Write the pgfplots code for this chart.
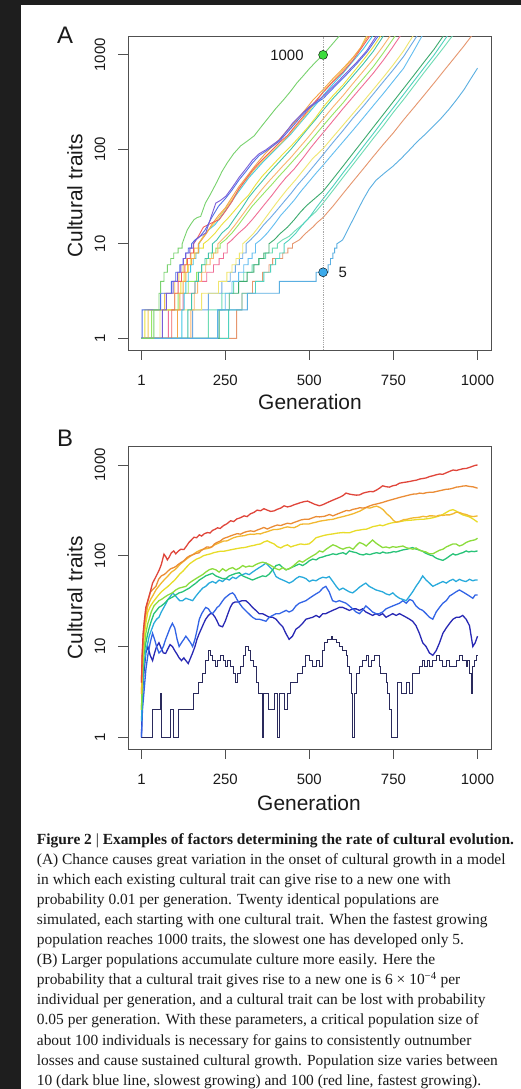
\documentclass[border=0pt]{standalone}
\usepackage{fontspec}
\setmainfont{Liberation Serif}
\setsansfont{Liberation Sans}
\usepackage{pgfplots}
\pgfplotsset{compat=1.18}
\definecolor{bgdark}{HTML}{1E1E1E}
\definecolor{axgray}{HTML}{505050}
\definecolor{txt}{HTML}{1A1A1A}
\definecolor{cA1}{HTML}{78D26E}\definecolor{cA2}{HTML}{7A5CD8}\definecolor{cA3}{HTML}{5070E6}
\definecolor{cA4}{HTML}{F06060}\definecolor{cA5}{HTML}{F5A548}\definecolor{cA6}{HTML}{F0C850}
\definecolor{cA7}{HTML}{40C8E6}\definecolor{cA8}{HTML}{EBE13C}\definecolor{cA9}{HTML}{40C3AA}
\definecolor{cA10}{HTML}{FAB46E}\definecolor{cA11}{HTML}{96E664}\definecolor{cA12}{HTML}{F06E96}
\definecolor{cA13}{HTML}{F0E66E}\definecolor{cA14}{HTML}{6EAAE6}\definecolor{cA15}{HTML}{64BEF0}
\definecolor{cA16}{HTML}{3CAA6E}\definecolor{cA17}{HTML}{50D2BE}\definecolor{cA18}{HTML}{6EDCB4}
\definecolor{cA19}{HTML}{E6966E}\definecolor{cA20}{HTML}{5AAFE1}
\definecolor{cB1}{HTML}{E0453A}\definecolor{cB2}{HTML}{EB8C35}\definecolor{cB3}{HTML}{F2B830}
\definecolor{cB4}{HTML}{E8DC28}\definecolor{cB5}{HTML}{8CDC3C}\definecolor{cB6}{HTML}{28C378}
\definecolor{cB7}{HTML}{28AADC}\definecolor{cB8}{HTML}{3264E6}\definecolor{cB9}{HTML}{2828B4}
\definecolor{cB10}{HTML}{2A2A5C}
\newcommand{\tlfont}{\fontsize{15}{18}\selectfont\sffamily}
\begin{document}
\begin{tikzpicture}
\useasboundingbox (0,0) rectangle (521bp,-1089bp);
\fill[bgdark] (0,0) rectangle (521bp,-1089bp);
\fill[white] (21bp,-5bp) rectangle (521bp,-1089bp);
% ---------------- Panel A
\begin{axis}[at={(128bp,-36bp)}, anchor=north west,
    scale only axis, width=363bp, height=314bp,
    xmin=-39, xmax=1040, ymode=log, ymin=0.752, ymax=1585,
    xtick={1,250,500,750,1000}, xticklabels={1,250,500,750,1000},
    ytick={1,10,100,1000}, yticklabels={1,10,100,1000},
    yminorticks=false, xminorticks=false,
    tick align=outside, major tick length=10bp,
    xtick pos=left, ytick pos=left,
    axis line style={draw=axgray, line width=0.8bp},
    tick style={draw=axgray, line width=0.8bp},
    /pgf/number format/assume math mode=true,
    tick label style={font=\tlfont, text=txt, inner sep=0pt},
    xticklabel style={anchor=center, yshift=-20bp},
    yticklabel style={xshift=-18bp, rotate=90, anchor=center}]
\addplot[line width=0.9bp, no marks, cA19] coordinates {(1,1)(284,1)(284,2)(300,2)(300,3)(331,3)(331,4)(361,4)(361,5)(380,5)(380,6)(391,6)(391,7)(421,7)(421,8)(436,8)(436,9)(450,9)(450,10)(470,11)(490,13)(510,15)(525,17)(541,19)(570,25)(600,34)(630,46)(660,62)(690,84)(720,113)(750,150)(780,205)(810,275)(840,370)(870,500)(900,680)(930,920)(960,1250)(982,1585)(990,1700)};
\addplot[line width=0.9bp, no marks, cA18] coordinates {(1,1)(200,1)(200,2)(240,2)(240,3)(275,3)(275,4)(305,4)(305,5)(330,5)(330,6)(350,6)(350,7)(370,7)(370,8)(390,8)(390,9)(405,9)(405,10)(420,11)(440,12)(460,14)(480,16)(500,19)(520,22)(541,27)(571,37)(601,51)(631,70)(661,96)(691,132)(721,180)(751,250)(781,340)(811,470)(841,650)(871,890)(901,1220)(925,1585)(935,1800)};
\addplot[line width=0.9bp, no marks, cA17] coordinates {(1,1)(260,1)(260,2)(300,2)(300,3)(340,3)(340,4)(365,4)(365,5)(385,5)(385,6)(400,6)(400,7)(412,7)(412,8)(425,8)(425,10)(440,11)(460,13)(480,16)(500,19)(520,24)(541,30)(571,41)(601,57)(631,78)(661,108)(691,148)(721,205)(751,280)(781,385)(811,530)(841,730)(871,1000)(910,1585)(920,1800)};
\addplot[line width=0.9bp, no marks, cA16] coordinates {(1,1)(232,1)(232,2)(262,2)(262,3)(290,3)(290,4)(315,4)(315,5)(335,5)(335,6)(350,6)(350,7)(365,7)(365,8)(380,8)(380,10)(395,11)(415,13)(435,15)(455,18)(475,22)(495,26)(520,31)(541,36)(571,49)(601,67)(631,92)(661,126)(691,173)(721,237)(751,325)(781,445)(811,610)(841,840)(871,1150)(898,1585)(908,1800)};
\addplot[line width=0.9bp, no marks, cA15] coordinates {(1,1)(227,1)(227,2)(250,2)(250,3)(270,3)(270,4)(290,4)(290,5)(305,5)(305,6)(318,6)(318,7)(330,7)(330,8)(340,8)(340,10)(355,11)(375,13)(395,16)(415,20)(435,24)(455,29)(475,36)(500,46)(520,56)(541,68)(570,90)(600,120)(630,160)(660,215)(690,290)(720,390)(750,530)(780,720)(810,1100)(835,1585)(845,1750)};
\addplot[line width=0.9bp, no marks, cA14] coordinates {(1,1)(153,1)(153,2)(200,2)(200,3)(240,3)(240,4)(265,4)(265,5)(280,5)(280,6)(292,6)(292,7)(302,7)(302,8)(312,8)(312,10)(325,11)(345,13)(365,16)(385,19)(405,23)(425,28)(445,34)(465,42)(490,53)(515,68)(541,88)(570,118)(600,158)(630,215)(660,285)(690,385)(720,520)(750,700)(780,960)(820,1585)(830,1750)};
\addplot[line width=0.9bp, no marks, cA13] coordinates {(1,1)(56,1)(56,2)(180,2)(180,3)(230,3)(230,4)(255,4)(255,5)(270,5)(270,6)(282,6)(282,7)(292,7)(292,8)(302,8)(302,10)(315,11)(335,13)(355,16)(375,20)(395,25)(415,31)(435,38)(460,48)(485,62)(510,80)(541,102)(570,135)(600,180)(630,240)(660,320)(690,430)(720,580)(750,790)(780,1100)(808,1585)(818,1750)};
\addplot[line width=0.9bp, no marks, cA12] coordinates {(1,1)(81,1)(81,2)(125,2)(125,3)(160,3)(160,4)(195,4)(195,5)(215,5)(215,6)(232,6)(232,7)(245,7)(245,8)(256,8)(256,10)(270,11)(290,13)(310,15)(330,18)(350,22)(370,27)(390,33)(410,41)(430,50)(455,62)(480,80)(505,105)(530,135)(541,150)(570,200)(600,270)(630,360)(660,480)(690,640)(720,880)(745,1170)(770,1585)(780,1750)};
\addplot[line width=0.9bp, no marks, cA11] coordinates {(1,1)(31,1)(31,2)(110,2)(110,3)(140,3)(140,4)(165,4)(165,5)(180,5)(180,6)(195,6)(195,7)(210,7)(210,8)(222,8)(222,9)(235,9)(235,10)(250,11)(270,13)(290,16)(310,20)(330,25)(350,30)(370,36)(390,43)(410,52)(430,62)(455,78)(480,98)(505,125)(530,160)(541,178)(570,235)(600,310)(630,420)(660,560)(690,750)(720,1050)(755,1585)(765,1750)};
\addplot[line width=0.9bp, no marks, cA10] coordinates {(1,1)(148,1)(148,2)(158,2)(158,3)(168,3)(168,4)(180,4)(180,5)(192,5)(192,6)(205,6)(205,7)(215,7)(215,8)(228,8)(228,10)(240,11)(260,13)(280,16)(300,20)(320,25)(340,31)(360,38)(380,46)(400,55)(420,66)(445,82)(470,104)(495,132)(520,170)(541,210)(570,280)(600,370)(630,500)(660,670)(690,900)(715,1180)(740,1585)(750,1750)};
\addplot[line width=0.9bp, no marks, cA9] coordinates {(1,1)(139,1)(139,2)(150,2)(150,3)(160,3)(160,4)(170,4)(170,5)(180,5)(180,6)(190,6)(190,7)(200,7)(200,8)(212,8)(212,10)(225,11)(240,13)(260,15)(280,19)(300,24)(320,31)(340,38)(360,46)(380,56)(400,67)(420,80)(445,100)(470,128)(495,165)(520,210)(541,260)(570,345)(600,450)(630,600)(660,800)(690,1090)(720,1585)(730,1750)};
\addplot[line width=0.9bp, no marks, cA8] coordinates {(1,1)(11,1)(11,2)(100,2)(100,3)(118,3)(118,4)(128,4)(128,5)(138,5)(138,6)(148,6)(148,7)(158,7)(158,8)(170,8)(170,9)(185,9)(185,10)(200,11)(220,13)(240,16)(260,19)(280,23)(300,28)(320,33)(340,42)(360,52)(380,62)(400,74)(420,88)(445,108)(470,135)(495,170)(520,220)(541,280)(570,370)(600,480)(630,650)(660,880)(690,1210)(712,1585)(722,1750)};
\addplot[line width=0.9bp, no marks, cA7] coordinates {(1,1)(121,1)(121,2)(128,2)(128,3)(133,3)(133,4)(140,4)(140,5)(147,5)(147,6)(155,6)(155,7)(163,7)(163,8)(172,8)(172,10)(185,12)(200,14)(220,16)(240,20)(260,25)(280,32)(300,40)(320,50)(340,60)(360,72)(380,85)(400,100)(420,118)(445,145)(470,185)(495,235)(520,300)(541,370)(570,490)(600,640)(630,860)(660,1150)(688,1585)(698,1750)};
\addplot[line width=0.9bp, no marks, cA6] coordinates {(1,1)(21,1)(21,2)(70,2)(70,3)(100,3)(100,4)(112,4)(112,5)(125,5)(125,6)(135,6)(135,7)(148,7)(148,8)(158,8)(158,9)(170,9)(170,10)(185,12)(200,14)(220,17)(240,21)(260,26)(280,33)(300,42)(320,52)(340,63)(360,75)(380,88)(400,103)(420,120)(445,150)(470,190)(495,245)(520,320)(541,410)(570,530)(600,690)(630,930)(650,1150)(670,1585)(680,1750)};
\addplot[line width=0.9bp, no marks, cA5] coordinates {(1,1)(108,1)(108,2)(115,2)(115,3)(125,3)(125,4)(133,4)(133,5)(140,5)(140,6)(150,6)(150,7)(160,7)(160,8)(170,8)(170,10)(180,11)(195,13)(210,16)(230,20)(250,24)(270,31)(290,40)(311,50)(331,62)(351,76)(371,92)(391,108)(411,128)(435,160)(460,200)(485,255)(510,330)(541,430)(570,560)(600,720)(630,940)(653,1200)(675,1585)(685,1750)};
\addplot[line width=0.9bp, no marks, cA4] coordinates {(1,1)(91,1)(91,2)(100,2)(100,3)(110,3)(110,4)(120,4)(120,5)(130,5)(130,6)(138,6)(138,7)(146,7)(146,8)(156,8)(156,10)(170,12)(185,15)(200,16)(215,17)(232,18)(250,22)(270,28)(290,38)(311,48)(331,60)(351,72)(371,85)(391,100)(411,118)(435,140)(460,180)(485,230)(510,300)(541,400)(570,520)(600,660)(630,880)(655,1180)(680,1585)(690,1750)};
\addplot[line width=0.9bp, no marks, cA3] coordinates {(1,1)(3,1)(3,2)(58,2)(58,3)(90,3)(90,4)(103,4)(103,5)(115,5)(115,6)(125,6)(125,7)(132,7)(132,8)(140,8)(140,9)(150,9)(150,10)(160,11)(175,12)(190,14)(210,19)(230,25)(250,30)(270,37)(292,48)(311,58)(331,72)(351,86)(371,96)(391,108)(411,122)(430,145)(450,175)(475,222)(500,275)(520,310)(541,345)(575,460)(609,610)(640,800)(672,1080)(705,1585)(715,1800)};
\addplot[line width=0.9bp, no marks, cA2] coordinates {(1,1)(63,1)(63,2)(75,2)(75,3)(95,3)(95,4)(108,4)(108,5)(118,5)(118,6)(126,6)(126,7)(133,7)(133,8)(145,8)(145,9)(155,9)(155,10)(163,11)(175,12)(192,13)(205,18)(222,27)(237,29)(252,32)(272,40)(292,51)(311,62)(331,77)(351,90)(371,99)(391,112)(411,126)(430,152)(450,189)(475,232)(500,283)(520,320)(541,363)(575,480)(609,640)(640,830)(670,1100)(699,1585)(710,1800)};
\addplot[line width=0.9bp, no marks, cA20] coordinates {(1,1)(228,1)(228,2)(316,2)(316,3)(411,3)(411,4)(520,4)(520,5)(556,5)(556,6)(563,6)(563,7)(570,7)(570,8)(575,8)(575,9)(582,9)(582,10)(599,11)(614,14)(639,21)(659,29)(678,38)(698,47)(723,56)(748,66)(773,80)(798,99)(820,120)(845,145)(867,174)(890,210)(915,265)(937,333)(960,430)(980,560)(1000,724)};
\addplot[line width=0.9bp, no marks, cA1] coordinates {(1,1)(38,1)(38,2)(53,2)(53,3)(58,3)(58,4)(68,4)(68,5)(78,5)(78,6)(88,6)(88,7)(97,7)(97,8)(110,8)(110,9)(122,9)(122,10)(130,12)(137,14)(147,16)(157,18)(167,19)(177,19.5)(191,27)(205,33)(225,45)(240,58)(256,72)(275,90)(296,109)(315,122)(336,139)(355,170)(375,209)(400,270)(425,340)(445,415)(464,510)(480,590)(499,707)(520,850)(541,1000)(565,1260)(589,1585)(600,1780)};
\addplot[densely dotted, line width=0.8bp, gray!70, no marks] coordinates {(541,0.752)(541,1585)};
\addplot[only marks, mark=*, mark size=4.5bp, draw=none, fill={rgb,255:red,60;green,220;blue,60}] coordinates {(541,1000)};
\addplot[only marks, mark=*, mark size=4.5bp, draw=none, fill={rgb,255:red,60;green,170;blue,235}] coordinates {(541,5)};
\node[anchor=east, xshift=-16bp, font=\tlfont, text=txt] at (axis cs:541,1000) {1000};
\node[anchor=west, xshift=12bp, font=\tlfont, text=txt] at (axis cs:541,5) {5};
\end{axis}
% ---------------- Panel B
\begin{axis}[at={(128bp,-446bp)}, anchor=north west,
    scale only axis, width=363bp, height=303bp,
    xmin=-39, xmax=1040, ymode=log, ymin=0.743, ymax=1618,
    xtick={1,250,500,750,1000}, xticklabels={1,250,500,750,1000},
    ytick={1,10,100,1000}, yticklabels={1,10,100,1000},
    yminorticks=false, xminorticks=false,
    tick align=outside, major tick length=10bp,
    xtick pos=left, ytick pos=left,
    axis line style={draw=axgray, line width=0.8bp},
    tick style={draw=axgray, line width=0.8bp},
    /pgf/number format/assume math mode=true,
    tick label style={font=\tlfont, text=txt, inner sep=0pt},
    xticklabel style={anchor=center, yshift=-20bp},
    yticklabel style={xshift=-18bp, rotate=90, anchor=center}]
\addplot[line width=1.0bp, no marks, cB10, const plot] coordinates {(1,1)(33,2)(58,3)(60,2)(62,1)(87,2)(97,1)(112,2)(157,3)(172,4)(182,5)(191,7)(201,9)(206,8)(213,7)(221,6)(228,7)(236,8)(244,7)(251,6)(256,7)(266,6)(276,5)(281,4)(286,5)(296,6)(305,8)(311,10)(318,9)(326,7)(335,6)(343,4)(350,3)(360,1)(365,3)(380,2)(395,3)(405,1)(410,3)(425,2)(434,3)(444,4)(454,4)(464,5)(474,5)(480,6)(490,8)(500,7)(510,6)(520,7)(530,6)(538,9)(545,11)(555,12)(565,13)(570,12)(580,11)(589,10)(599,9)(609,8)(614,6)(619,5)(624,3)(629,1)(634,3)(639,5)(649,6)(659,7)(669,8)(677,6)(684,7)(693,8)(703,8)(708,6)(713,5)(720,5)(728,4)(733,3)(738,2)(743,1)(763,4)(773,3)(788,4)(798,3)(808,5)(818,5)(827,6)(835,7)(842,6)(850,7)(857,6)(867,7)(877,8)(887,7)(897,6)(907,7)(917,6)(927,6)(937,7)(946,8)(956,7)(966,6)(971,7)(976,5)(981,3)(986,6)(991,7)(996,8)(1000,8)};
\addplot[line width=1.3bp, no marks, cB9] coordinates {(1,1)(4,3)(8,5)(14,8.5)(20,10)(27,8)(34,7)(40,8.5)(46,10)(53,11)(60,9.5)(66,8.5)(73,8.4)(80,9.5)(86,10.5)(93,10)(100,9)(107,8.2)(113,7.5)(120,7)(127,7.5)(133,7)(140,6.5)(147,7.5)(153,8.5)(160,10)(166,12)(173,14)(180,16)(186,18)(192,20)(200,22)(206,23)(212,23)(220,21)(226,19)(232,17)(242,16.5)(250,19)(258,23)(265,27)(272,30)(280,31)(290,31)(300,32)(311,32)(320,30)(331,27)(341,25)(351,23)(361,23)(371,22)(381,21)(391,21)(401,20)(411,18)(421,16.5)(430,14)(440,12)(450,13)(460,15.5)(470,16.5)(480,18)(490,20)(500,20.5)(510,21)(520,22)(530,21)(540,23)(549,23)(559,24)(569,25)(580,26)(589,27)(599,27)(609,26)(619,25)(629,26)(639,26)(649,25)(658,26)(668,24)(678,23)(688,22)(698,23)(708,22)(718,23)(728,21)(738,22)(748,23)(758,22)(768,23)(778,22)(788,21)(798,20)(807,19)(817,17)(827,14)(837,11)(847,10)(857,8.5)(867,8)(877,9)(887,11)(897,14)(907,16)(917,18)(927,20)(937,21)(946,21)(956,22)(966,20)(976,17)(986,10)(993,11)(1000,13)};
\addplot[line width=1.3bp, no marks, cB8] coordinates {(1,1)(4,2)(8,3)(14,5.5)(20,8)(27,11)(34,14)(40,12)(46,10)(53,8.5)(60,9)(66,10)(73,12)(80,14)(86,16)(93,18)(100,16)(107,12)(113,10)(120,11)(127,12)(133,13)(140,12)(147,11)(153,10)(160,12)(166,15)(173,20)(180,23)(186,25)(192,27)(200,26)(206,24)(212,23)(220,25)(226,27)(232,28)(240,31)(248,34)(256,36)(264,38)(272,39)(278,37)(285,33)(292,30)(301,27)(310,25)(320,23)(331,21)(341,20)(351,20)(361,19.5)(371,19)(381,21)(391,22)(401,23)(411,23)(421,24)(431,25)(440,24)(450,25)(460,28)(470,30)(480,31)(490,32)(500,34)(510,36)(520,38)(530,40)(540,44)(549,46)(559,40)(569,32)(579,31)(589,32)(599,31)(609,30)(619,28)(629,26)(639,24)(649,23)(658,25)(668,28)(678,26)(688,24)(698,23)(708,23)(718,24)(728,26)(738,27)(748,28)(758,29)(768,30)(778,32)(788,30)(798,33)(807,32)(817,28)(827,26)(837,25)(847,23)(857,21)(867,20)(877,24)(887,27)(897,30)(907,32)(917,36)(927,38)(936,40)(946,42)(956,40)(966,38)(976,36)(986,34)(993,37)(1000,37)};
\addplot[line width=1.3bp, no marks, cB7] coordinates {(1,1.5)(4,3)(8,6)(14,9)(20,11)(24,13)(30,15)(38,18)(46,20)(53,21)(60,24)(70,28)(80,33)(88,36)(93,39)(100,37)(108,34)(115,32)(123,32)(133,34)(143,33)(153,32)(163,36)(173,40)(183,44)(192,46)(202,50)(212,52)(222,50)(232,54)(242,52)(252,56)(262,54)(272,58)(282,56)(292,60)(302,62)(311,64)(321,62)(331,66)(341,70)(351,74)(361,78)(371,83)(381,76)(391,70)(401,59)(411,56)(421,54)(431,52)(440,50)(450,52)(460,56)(470,59)(480,58)(490,56)(500,52)(510,54)(520,53)(530,56)(540,58)(550,57)(559,59)(570,52)(580,46)(589,42)(600,44)(609,42)(619,40)(629,39)(640,42)(649,45)(660,48)(668,50)(678,46)(688,44)(698,42)(708,41)(718,40)(728,38)(738,37)(748,39)(758,36)(768,34)(778,33)(788,32)(798,36)(807,40)(817,46)(827,52)(837,60)(847,54)(857,50)(867,46)(877,48)(887,50)(897,52)(907,50)(917,53)(927,55)(936,52)(946,55)(956,53)(966,52)(976,55)(986,53)(993,54)(1000,54)};
\addplot[line width=1.3bp, no marks, cB6] coordinates {(1,2)(4,4)(8,8)(14,11)(20,14)(24,16)(30,19)(38,23)(46,25)(53,27)(60,28)(70,30)(80,33)(93,35)(103,37)(113,39)(123,40)(133,42)(143,44)(153,47)(163,50)(173,54)(183,57)(192,60)(202,62)(212,64)(222,60)(232,58)(242,56)(252,56)(262,60)(272,62)(282,64)(292,65)(302,60)(311,58)(321,56)(331,54)(341,56)(351,58)(361,60)(371,59)(381,63)(391,70)(401,78)(411,80)(421,74)(431,70)(440,72)(450,75)(460,78)(470,81)(480,78)(490,82)(500,88)(510,92)(520,90)(530,95)(540,97)(550,100)(560,102)(570,105)(580,103)(590,106)(600,108)(609,104)(619,113)(630,110)(640,108)(649,104)(660,102)(669,105)(680,103)(690,106)(700,108)(710,106)(718,110)(728,107)(740,108)(750,111)(758,110)(768,113)(778,116)(790,118)(800,121)(807,123)(815,119)(820,118)(828,115)(837,112)(843,108)(850,105)(858,102)(867,100)(873,96)(880,93)(888,91)(897,89)(904,92)(910,95)(918,100)(927,105)(934,102)(940,103)(948,106)(956,108)(966,113)(974,110)(982,112)(990,111)(1000,113)};
\addplot[line width=1.3bp, no marks, cB5] coordinates {(1,2)(4,5)(8,9)(14,14)(20,18)(24,20)(30,24)(38,28)(46,30)(53,32)(60,33)(70,35)(80,37)(93,39)(103,42)(113,44)(123,45)(133,46)(143,50)(153,53)(163,56)(173,59)(183,62)(192,66)(202,70)(212,72)(222,70)(232,66)(242,72)(252,68)(262,72)(272,74)(282,70)(292,73)(302,78)(311,75)(321,77)(331,76)(341,80)(351,83)(361,85)(371,83)(381,80)(391,76)(401,72)(411,70)(421,74)(431,70)(440,72)(450,76)(460,82)(470,88)(480,85)(490,90)(500,95)(510,100)(520,105)(530,113)(540,110)(550,118)(560,125)(570,132)(580,128)(590,122)(600,118)(609,122)(619,124)(630,118)(640,130)(649,140)(660,135)(669,128)(680,140)(688,149)(698,138)(708,130)(718,123)(728,125)(738,122)(748,126)(758,124)(768,126)(778,128)(790,122)(800,120)(808,118)(817,122)(828,115)(838,112)(847,110)(857,105)(867,105)(877,110)(887,115)(897,118)(907,125)(917,130)(927,135)(936,135)(946,128)(956,132)(966,140)(976,145)(986,148)(993,150)(1000,156)};
\addplot[line width=1.3bp, no marks, cB4] coordinates {(1,3)(4,7)(8,12)(14,18)(20,24)(28,28)(36,31)(44,34)(52,37)(60,40)(70,43)(80,46)(90,50)(100,54)(107,58)(115,63)(125,68)(135,75)(145,82)(157,88)(165,92)(175,95)(185,100)(197,103)(207,105)(215,108)(225,110)(235,112)(245,112)(256,114)(265,116)(275,118)(285,120)(296,122)(306,123)(315,125)(325,128)(335,130)(345,133)(355,135)(365,142)(375,146)(385,140)(395,135)(405,126)(415,122)(425,128)(435,132)(445,125)(455,129)(465,132)(474,135)(485,133)(499,135)(510,145)(520,158)(530,162)(545,168)(560,172)(570,174)(585,178)(600,180)(619,179)(630,185)(640,190)(650,192)(660,195)(669,196)(680,203)(690,210)(700,213)(710,218)(718,214)(730,222)(740,228)(750,232)(758,234)(770,238)(780,242)(790,245)(800,246)(810,248)(817,250)(828,252)(838,252)(848,255)(857,258)(867,262)(877,268)(887,275)(897,285)(907,300)(917,315)(927,322)(937,310)(946,295)(956,282)(966,275)(976,268)(986,255)(993,245)(1000,234)};
\addplot[line width=1.3bp, no marks, cB3] coordinates {(1,3)(4,8)(8,14)(14,22)(20,28)(28,33)(36,37)(44,42)(52,46)(60,50)(70,55)(80,60)(90,66)(100,70)(107,74)(115,80)(125,86)(135,92)(145,98)(157,105)(165,110)(175,115)(185,118)(197,120)(207,123)(215,130)(225,135)(235,140)(245,145)(256,146)(265,152)(275,158)(285,162)(296,165)(306,166)(315,170)(325,173)(335,172)(345,175)(355,174)(365,180)(375,184)(385,190)(395,195)(405,195)(415,198)(425,204)(435,208)(445,205)(455,204)(465,212)(474,222)(485,224)(499,224)(510,230)(520,234)(530,240)(545,245)(560,250)(570,252)(585,262)(600,270)(619,282)(630,290)(640,300)(650,310)(660,325)(669,340)(680,335)(690,345)(700,352)(710,340)(720,320)(730,290)(740,270)(750,245)(758,234)(770,240)(780,250)(790,252)(800,258)(810,262)(817,263)(828,266)(838,272)(848,268)(857,275)(867,275)(877,272)(887,280)(897,278)(907,282)(917,282)(927,290)(937,302)(946,300)(956,290)(966,285)(976,275)(986,270)(993,272)(1000,275)};
\addplot[line width=1.3bp, no marks, cB2] coordinates {(1,4)(4,9)(8,16)(14,25)(20,32)(28,40)(36,43)(44,46)(52,55)(60,60)(68,62)(73,64)(80,68)(88,72)(97,74)(103,76)(110,80)(120,85)(127,88)(137,96)(145,100)(155,103)(163,106)(173,108)(177,113)(185,118)(195,125)(205,124)(212,126)(217,134)(225,140)(235,145)(245,155)(256,160)(265,165)(275,170)(285,175)(296,173)(305,180)(315,185)(325,188)(336,185)(345,192)(355,198)(365,205)(375,197)(385,205)(395,212)(405,218)(415,215)(425,222)(435,228)(445,225)(455,233)(465,240)(475,248)(485,252)(499,253)(510,262)(520,270)(530,268)(545,272)(560,285)(570,275)(585,290)(600,305)(610,315)(619,313)(630,325)(640,330)(650,338)(660,335)(669,341)(680,355)(690,365)(700,372)(710,380)(718,387)(730,400)(740,410)(750,420)(760,430)(768,439)(780,450)(790,460)(800,470)(810,478)(817,478)(828,490)(838,485)(848,495)(857,500)(867,500)(877,510)(887,520)(897,530)(907,540)(917,543)(927,555)(937,570)(946,575)(956,585)(966,590)(976,580)(986,575)(993,565)(1000,555)};
\addplot[line width=1.3bp, no marks, cB1] coordinates {(1,4)(3,8)(6,14)(10,20)(14,27)(20,32)(28,41)(34,50)(40,55)(48,63)(54,70)(60,80)(68,104)(73,98)(78,90)(83,96)(90,108)(97,113)(103,105)(110,112)(118,118)(127,117)(135,128)(142,140)(150,150)(157,160)(165,158)(173,170)(180,165)(188,175)(197,180)(205,178)(212,190)(220,196)(227,203)(235,200)(245,215)(255,225)(266,243)(275,238)(285,255)(295,262)(306,275)(315,270)(325,290)(335,300)(345,318)(355,313)(365,330)(375,318)(385,308)(395,312)(405,325)(415,335)(425,355)(435,345)(445,352)(455,365)(465,375)(474,385)(485,395)(495,400)(505,385)(515,370)(530,355)(540,365)(550,380)(560,395)(570,410)(580,425)(590,440)(600,460)(609,490)(619,478)(630,470)(640,465)(649,468)(660,490)(669,500)(680,510)(690,508)(700,530)(710,560)(718,590)(728,576)(738,570)(748,590)(758,600)(768,630)(778,640)(790,650)(800,660)(808,670)(818,680)(828,700)(838,710)(847,720)(857,745)(867,760)(877,780)(887,795)(897,790)(907,820)(917,850)(927,880)(937,870)(947,890)(957,910)(966,915)(976,940)(986,970)(993,990)(1000,1000)};
\end{axis}
% ---------------- labels
\node[font=\fontsize{24}{28}\selectfont\sffamily, text=txt] at (65bp,-35bp) {A};
\node[font=\fontsize{24}{28}\selectfont\sffamily, text=txt] at (65bp,-438bp) {B};
\node[rotate=90, font=\fontsize{21}{25}\selectfont\sffamily, text=txt] at (75bp,-196bp) {Cultural traits};
\node[rotate=90, font=\fontsize{21}{25}\selectfont\sffamily, text=txt] at (75bp,-598bp) {Cultural traits};
\node[font=\fontsize{21}{25}\selectfont\sffamily, text=txt] at (310bp,-402bp) {Generation};
\node[font=\fontsize{21}{25}\selectfont\sffamily, text=txt] at (309bp,-803bp) {Generation};
% ---------------- caption
\node[anchor=north west, inner sep=0pt, align=left, text=txt, font=\fontsize{15.5}{20.17}\selectfont] at (36.7bp,-833bp) {%
\textbf{Figure 2} | \textbf{Examples of factors determining the rate of cultural evolution.}\\
(A) Chance causes great variation in the onset of cultural growth in a model\\
in which each existing cultural trait can give rise to a new one with\\
probability 0.01 per generation. Twenty identical populations are\\
simulated, each starting with one cultural trait. When the fastest growing\\
population reaches 1000 traits, the slowest one has developed only 5.\\
(B) Larger populations accumulate culture more easily. Here the\\
probability that a cultural trait gives rise to a new one is 6 × 10\textsuperscript{−4} per\\
individual per generation, and a cultural trait can be lost with probability\\
0.05 per generation. With these parameters, a critical population size of\\
about 100 individuals is necessary for gains to consistently outnumber\\
losses and cause sustained cultural growth. Population size varies between\\
10 (dark blue line, slowest growing) and 100 (red line, fastest growing).};
\end{tikzpicture}
\end{document}
